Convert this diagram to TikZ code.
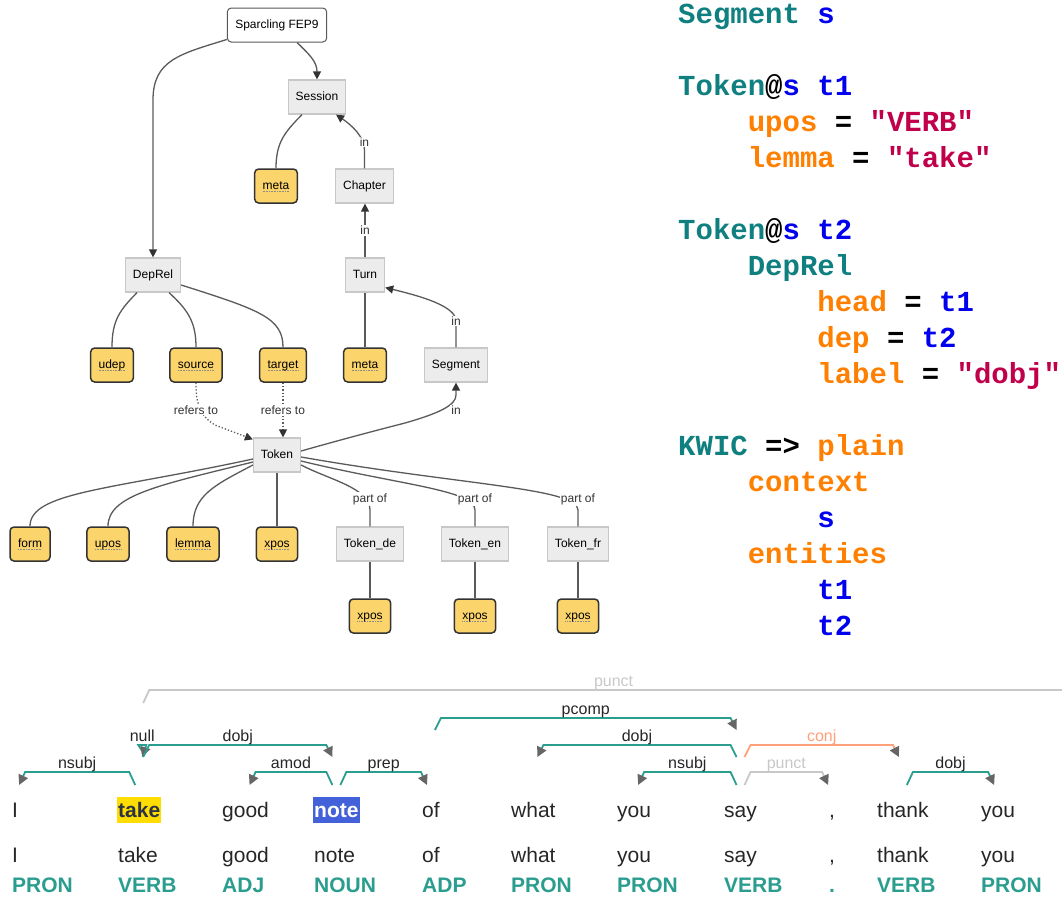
\documentclass[tikz,border=0pt]{standalone}
\usepackage{fontspec}
\setmainfont{Liberation Sans}
\newfontfamily\codefont{Liberation Mono}[Ligatures=TeXOff]
\usepackage{xcolor}
\usetikzlibrary{arrows.meta}
\usetikzlibrary{calc}

\definecolor{boxgray}{HTML}{ECECEC}
\definecolor{boxline}{HTML}{C8C8C8}
\definecolor{attrfill}{HTML}{FCD46C}
\definecolor{edgegray}{HTML}{5A5A5A}
\definecolor{codeteal}{HTML}{0F7F7F}
\definecolor{codeblue}{HTML}{0000EE}
\definecolor{codeorange}{HTML}{FF8000}
\definecolor{codered}{HTML}{C0004A}
\definecolor{depteal}{HTML}{2A9D8F}
\definecolor{puncgray}{HTML}{C8C8C8}
\definecolor{conjsalmon}{HTML}{FFA07A}
\definecolor{tipgray}{HTML}{666666}
\definecolor{hlyellow}{HTML}{FFDD00}
\definecolor{hlblue}{HTML}{4361D8}
\definecolor{takeink}{HTML}{2B3445}

\newcommand{\cls}[1]{\textcolor{codeteal}{#1}}
\newcommand{\ident}[1]{\textcolor{codeblue}{#1}}
\newcommand{\prop}[1]{\textcolor{codeorange}{#1}}
\newcommand{\strv}[1]{\textcolor{codered}{#1}}

% arcs over the sentence: head #2, dependent #3, level #4
\newcommand{\leftarc}[5][teal arc]{%
  \draw[#1] ($(#2 |- foot#4)+(-4,0)$) -- ($(#2 |- top#4)+(-10,0)$)
    -- node[arc label]{#5} ($(#3 |- top#4)+(10,0)$) -- ($(#3 |- foot#4)+(4,0)$);}
\newcommand{\rightarc}[5][teal arc]{%
  \draw[#1] ($(#2 |- foot#4)+(4,0)$) -- ($(#2 |- top#4)+(10,0)$)
    -- node[arc label]{#5} ($(#3 |- top#4)+(-10,0)$) -- ($(#3 |- foot#4)+(-4,0)$);}

\tikzset{
  entity/.style={draw=boxline, fill=boxgray, line width=1.2pt, minimum height=34pt,
    inner xsep=7.5pt, text height=9pt, text depth=3pt, font=\fontsize{12}{14}\selectfont},
  attr/.style={draw=black!80, fill=attrfill, line width=1.5pt, rounded corners=4pt,
    minimum height=34pt, inner xsep=8pt, text height=9pt, text depth=3pt,
    font=\fontsize{12}{14}\selectfont,
    path picture={\draw[densely dotted, black!45, line width=0.6pt]
      ([xshift=8pt,yshift=-5.5pt]path picture bounding box.west) --
      ([xshift=-8pt,yshift=-5.5pt]path picture bounding box.east);}},
  corpus/.style={draw=black!65, fill=white, line width=1pt, rounded corners=4pt,
    minimum height=34pt, inner xsep=8pt, text height=9pt, text depth=3pt,
    font=\fontsize{12}{14}\selectfont},
  rel/.style={draw=edgegray, line width=1.3pt},
  relarrow/.style={rel, -{Triangle[length=8pt,width=8pt,color=black!80]}},
  edgelabel/.style={fill=white, inner sep=1pt, text=black!80, font=\fontsize{12}{14}\selectfont},
  code/.style={anchor=base west, inner sep=0pt, font=\codefont\bfseries\fontsize{29}{29}\selectfont},
  word/.style={anchor=base west, inner sep=0pt, text=black!85, font=\fontsize{21}{25}\selectfont},
  hl/.style={inner xsep=1pt, text height=20pt, text depth=6pt, font=\bfseries\fontsize{21}{25}\selectfont},
  tag/.style={anchor=base west, inner sep=0pt, text=depteal, font=\bfseries\fontsize{21}{25}\selectfont},
  teal arc/.style={draw=depteal, text=black!85, line width=1.8pt,
    -{Triangle[length=10pt,width=10pt,color=tipgray]}},
  punct arc/.style={teal arc, draw=puncgray, text=puncgray},
  conj arc/.style={teal arc, draw=conjsalmon, text=conjsalmon},
  arc label/.style={midway, anchor=base, yshift=4pt, inner sep=0pt, font=\fontsize{16}{19}\selectfont}
}

\begin{document}
\begin{tikzpicture}[x=1pt, y=-1pt]
    \useasboundingbox (0,0) rectangle (1062,897);
    \clip (0,0) rectangle (1062,897);

    % corpus model
    \node[corpus] (root) at (277,25) {Sparcling FEP9};
    \node[entity] (session) at (317,97) {Session};
    \node[attr] (smeta) at (276,186) {meta};
    \node[entity] (chapter) at (364.5,186) {Chapter};
    \node[entity] (deprel) at (153,275) {DepRel};
    \node[entity] (turn) at (365,275) {Turn};
    \node[attr] (udep) at (112,365) {udep};
    \node[attr] (source) at (196,365) {source};
    \node[attr] (target) at (283,365) {target};
    \node[attr] (tmeta) at (365,365) {meta};
    \node[entity] (segment) at (456,365) {Segment};
    \node[entity] (token) at (277,455) {Token};
    \node[attr] (form) at (30,544) {form};
    \node[attr] (upos) at (108,544) {upos};
    \node[attr] (lemma) at (193,544) {lemma};
    \node[attr] (xpos) at (277,544) {xpos};
    \node[entity] (tokde) at (370,544) {Token\_de};
    \node[entity] (tok_en) at (475,544) {Token\_en};
    \node[entity] (tok_fr) at (578,544) {Token\_fr};
    \node[attr] (xposde) at (370,616) {xpos};
    \node[attr] (xposen) at (475,616) {xpos};
    \node[attr] (xposfr) at (578,616) {xpos};

    \draw[relarrow] ([yshift=3pt]root.south west) .. controls (180,54) and (153,60) .. (153,100) -- (deprel.north);
    \draw[relarrow] ([xshift=20pt]root.south) .. controls (310,55) and (317,62) .. (session.north);
    \draw[rel] ([xshift=-15pt]session.south) .. controls (285,132) and (276,142) .. (smeta.north);
    \draw[relarrow] (chapter.north) -- (364.5,150) .. controls (364.5,136) and (350,124) .. ([xshift=19pt]session.south);
    \node[edgelabel] (in1) at (364.5,142) {in};
    \draw[relarrow] (turn.north) -- node[edgelabel]{in} (turn.north |- chapter.south);
    \draw[relarrow] (segment.north) -- (456,321) .. controls (456,306) and (420,296) .. ([yshift=5pt]turn.south east);
    \node[edgelabel] (in3) at (456,321) {in};
    \draw[relarrow] ([yshift=4pt]token.east) .. controls (340,440) and (370,432) .. (405,423)
        .. controls (440,413) and (456,405) .. (456,395) -- (segment.south);
    \node[edgelabel] (in4) at (456,410) {in};

    \draw[rel] ([xshift=-16pt]deprel.south) .. controls (120,310) and (112,320) .. (udep.north);
    \draw[rel] ([xshift=16pt]deprel.south) .. controls (188,310) and (196,322) .. (source.north);
    \draw[rel] ([yshift=-10pt]deprel.east) .. controls (260,310) and (283,318) .. (target.north);
    \draw[rel] (turn.south) -- (tmeta.north);

    \draw[relarrow, dotted] (source.south) .. controls (196,400) and (198,415) .. (215,425) -- ([yshift=-2pt]token.north west);
    \node[edgelabel] (ref1) at (196,410) {refers to};
    \draw[relarrow, dotted] (target.south) -- node[edgelabel]{refers to} ([xshift=6pt]token.north);

    \draw[rel] ([yshift=-4pt]token.west) .. controls (110,490) and (30,492) .. (form.north);
    \draw[rel] ([yshift=-7pt]token.west) .. controls (160,485) and (108,495) .. (upos.north);
    \draw[rel] ([yshift=-10pt]token.west) .. controls (215,485) and (193,495) .. (lemma.north);
    \draw[rel] (token.south) -- (xpos.north);
    \draw[rel] ([yshift=-10pt]token.east) .. controls (330,480) and (370,488) .. (370,510) -- (tokde.north);
    \draw[rel] ([yshift=-6pt]token.east) .. controls (400,485) and (475,490) .. (475,510) -- (tok_en.north);
    \draw[rel] ([yshift=-2pt]token.east) .. controls (460,485) and (578,488) .. (578,510) -- (tok_fr.north);
    \node[edgelabel] (part1) at (370,499) {part of};
    \node[edgelabel] (part2) at (475,499) {part of};
    \node[edgelabel] (part3) at (578,499) {part of};
    \draw[rel] (tokde.south) -- (xposde.north);
    \draw[rel] (tok_en.south) -- (xposen.north);
    \draw[rel] (tok_fr.south) -- (xposfr.north);

    % query
    \node[code] (c1) at (678,23) {\cls{Segment} \ident{s}};
    \node[code] (c2) at (678,95) {\cls{Token}@\ident{s t1}};
    \node[code] (c3) at (747.6,131) {\prop{upos} = \strv{"VERB"}};
    \node[code] (c4) at (747.6,167) {\prop{lemma} = \strv{"take"}};
    \node[code] (c5) at (678,239) {\cls{Token}@\ident{s t2}};
    \node[code] (c6) at (747.6,275) {\cls{DepRel}};
    \node[code] (c7) at (817.2,311) {\prop{head} = \ident{t1}};
    \node[code] (c8) at (817.2,347) {\prop{dep} = \ident{t2}};
    \node[code] (c9) at (817.2,383) {\prop{label} = \strv{"dobj"}};
    \node[code] (c10) at (678,455) {\cls{KWIC} => \prop{plain}};
    \node[code] (c11) at (747.6,491) {\prop{context}};
    \node[code] (c12) at (817.2,527) {\ident{s}};
    \node[code] (c13) at (747.6,563) {\prop{entities}};
    \node[code] (c14) at (817.2,599) {\ident{t1}};
    \node[code] (c15) at (817.2,635) {\ident{t2}};

    % sentence
    \node[word] (w1) at (12,817) {I};
    \node[word, hl, fill=hlyellow, text=takeink] (w2) at (117,817) {take};
    \node[word] (w3) at (222,817) {good};
    \node[word, hl, fill=hlblue, text=white] (w4) at (313,817) {note};
    \node[word] (w5) at (422,817) {of};
    \node[word] (w6) at (511,817) {what};
    \node[word] (w7) at (617,817) {you};
    \node[word] (w8) at (724,817) {say};
    \node[word] (w9) at (829,817) {,};
    \node[word] (w10) at (877,817) {thank};
    \node[word] (w11) at (981,817) {you};

    \node[word] (f1) at (12,862) {I};
    \node[word] (f2) at (118,862) {take};
    \node[word] (f3) at (222,862) {good};
    \node[word] (f4) at (314,862) {note};
    \node[word] (f5) at (422,862) {of};
    \node[word] (f6) at (511,862) {what};
    \node[word] (f7) at (617,862) {you};
    \node[word] (f8) at (724,862) {say};
    \node[word] (f9) at (829,862) {,};
    \node[word] (f10) at (877,862) {thank};
    \node[word] (f11) at (981,862) {you};

    \node[tag] (p1) at (12,892) {PRON};
    \node[tag] (p2) at (118,892) {VERB};
    \node[tag] (p3) at (222,892) {ADJ};
    \node[tag] (p4) at (314,892) {NOUN};
    \node[tag] (p5) at (422,892) {ADP};
    \node[tag] (p6) at (511,892) {PRON};
    \node[tag] (p7) at (617,892) {PRON};
    \node[tag] (p8) at (724,892) {VERB};
    \node[tag] (p9) at (829,892) {.};
    \node[tag] (p10) at (877,892) {VERB};
    \node[tag] (p11) at (981,892) {PRON};

    \coordinate (top1) at (0,772);  \coordinate (foot1) at (0,785);
    \coordinate (top2) at (0,745);  \coordinate (foot2) at (0,757);
    \coordinate (top3) at (0,718);  \coordinate (foot3) at (0,730);
    \coordinate (top4) at (0,690);  \coordinate (foot4) at (0,703);
    \coordinate (offpage) at (1088,817);

    \rightarc[punct arc]{w2}{offpage}{4}{punct}
    \rightarc{w5}{w8}{3}{pcomp}
    \draw[teal arc] ($(w2 |- top2)+(3,6)$) -- ($(w2 |- top2)+(-1,0)$)
        -- node[arc label]{null} ($(w2 |- top2)+(7,0)$) -- ($(w2 |- foot2)+(3,0)$);
    \rightarc{w2}{w4}{2}{dobj}
    \leftarc{w8}{w6}{2}{dobj}
    \rightarc[conj arc]{w8}{w10}{2}{conj}
    \leftarc{w2}{w1}{1}{nsubj}
    \leftarc{w4}{w3}{1}{amod}
    \rightarc{w4}{w5}{1}{prep}
    \leftarc{w8}{w7}{1}{nsubj}
    \rightarc[punct arc]{w8}{w9}{1}{punct}
    \rightarc{w10}{w11}{1}{dobj}
\end{tikzpicture}
\end{document}
